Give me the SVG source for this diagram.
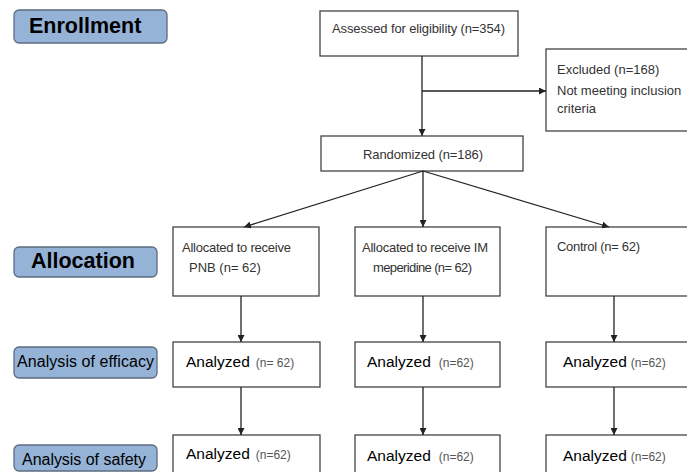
<svg xmlns="http://www.w3.org/2000/svg" width="687" height="472" viewBox="0 0 687 472">
<defs>
<marker id="ah" viewBox="0 0 10 10" refX="10" refY="5" markerWidth="7" markerHeight="7" markerUnits="userSpaceOnUse" orient="auto">
<path d="M0,0 L10,5 L0,10 z" fill="#222"/>
</marker>
<style>
.box{fill:#fff;stroke:#444;stroke-width:1.3}
.lab{fill:#95b3d7;stroke:#5d6c80;stroke-width:1.3}
.t{font-family:"Liberation Sans",Arial,sans-serif;font-size:13px;fill:#333}
.big{font-family:"Liberation Sans",Arial,sans-serif;font-weight:bold;font-size:21.5px;fill:#000}
.mid{font-family:"Liberation Sans",Arial,sans-serif;font-size:16px;fill:#000}
.an{font-family:"Liberation Sans",Arial,sans-serif;font-size:15.5px;fill:#000}
.n{font-family:"Liberation Sans",Arial,sans-serif;font-size:12px;fill:#555}
.c{stroke:#222;stroke-width:1.3;fill:none}
</style>
</defs>
<rect width="687" height="472" fill="#fff"/>

<g id="label-enrollment"><rect class="lab" x="14" y="10" width="153" height="33" rx="5"/><text class="big" x="29" y="33">Enrollment</text></g>
<g id="label-allocation"><rect class="lab" x="14" y="247" width="143" height="30" rx="5"/><text class="big" x="31" y="268">Allocation</text></g>
<g id="label-efficacy"><rect class="lab" x="14" y="347" width="143" height="31" rx="5"/><text class="mid" x="17" y="367" textLength="137">Analysis of efficacy</text></g>
<g id="label-safety"><rect class="lab" x="14" y="445" width="143" height="26" rx="5"/><text class="mid" x="22" y="465" textLength="124">Analysis of safety</text></g>

<g id="assessed"><rect class="box" x="320" y="11" width="198" height="45"/><text class="t" x="332" y="33" textLength="173">Assessed for eligibility (n=354)</text></g>
<g id="excluded"><rect class="box" x="546" y="49" width="160" height="82"/><text class="t" x="557" y="74">Excluded (n=168)</text><text class="t" x="557" y="95">Not meeting inclusion</text><text class="t" x="557" y="113">criteria</text></g>
<g id="randomized"><rect class="box" x="321" y="136" width="202" height="35"/><text class="t" x="363" y="159" textLength="120">Randomized (n=186)</text></g>

<g id="alloc-pnb"><rect class="box" x="173" y="227" width="146" height="69"/><text class="t" x="182" y="252" font-size="12.5" textLength="109">Allocated to receive</text><text class="t" x="189" y="272" font-size="12.5">PNB (n= 62)</text></g>
<g id="alloc-im"><rect class="box" x="355" y="227" width="145" height="69"/><text class="t" x="362" y="252" textLength="126">Allocated to receive IM</text><text class="t" x="373" y="272" textLength="99">meperidine (n= 62)</text></g>
<g id="alloc-control"><rect class="box" x="546" y="227" width="160" height="69"/><text class="t" x="557" y="251" textLength="83">Control (n= 62)</text></g>

<g id="eff-pnb"><rect class="box" x="173" y="342" width="147" height="45"/><text x="186" y="367"><tspan class="an">Analyzed</tspan><tspan class="n" dx="6">(n= 62)</tspan></text></g>
<g id="eff-im"><rect class="box" x="355" y="342" width="145" height="45"/><text x="367" y="367"><tspan class="an">Analyzed</tspan><tspan class="n" dx="8">(n=62)</tspan></text></g>
<g id="eff-control"><rect class="box" x="546" y="342" width="160" height="45"/><text x="563" y="367"><tspan class="an">Analyzed</tspan><tspan class="n" dx="4">(n=62)</tspan></text></g>

<g id="saf-pnb"><rect class="box" x="173" y="435" width="147" height="50"/><text x="186" y="459"><tspan class="an">Analyzed</tspan><tspan class="n" dx="6">(n=62)</tspan></text></g>
<g id="saf-im"><rect class="box" x="355" y="435" width="145" height="50"/><text x="367" y="461"><tspan class="an">Analyzed</tspan><tspan class="n" dx="8">(n=62)</tspan></text></g>
<g id="saf-control"><rect class="box" x="546" y="435" width="160" height="50"/><text x="563" y="461"><tspan class="an">Analyzed</tspan><tspan class="n" dx="4">(n=62)</tspan></text></g>

<g id="connectors">
<line class="c" x1="422" y1="56" x2="422" y2="136" marker-end="url(#ah)"/>
<line class="c" x1="422" y1="91" x2="546" y2="91" marker-end="url(#ah)"/>
<line class="c" x1="423" y1="171" x2="244" y2="227" marker-end="url(#ah)"/>
<line class="c" x1="423" y1="171" x2="423" y2="227" marker-end="url(#ah)"/>
<line class="c" x1="423" y1="171" x2="609" y2="227" marker-end="url(#ah)"/>
<line class="c" x1="241" y1="296" x2="241" y2="342" marker-end="url(#ah)"/>
<line class="c" x1="423" y1="296" x2="423" y2="342" marker-end="url(#ah)"/>
<line class="c" x1="614" y1="296" x2="614" y2="342" marker-end="url(#ah)"/>
<line class="c" x1="241" y1="387" x2="241" y2="435" marker-end="url(#ah)"/>
<line class="c" x1="423" y1="387" x2="423" y2="435" marker-end="url(#ah)"/>
<line class="c" x1="614" y1="387" x2="614" y2="435" marker-end="url(#ah)"/>
</g>
</svg>
